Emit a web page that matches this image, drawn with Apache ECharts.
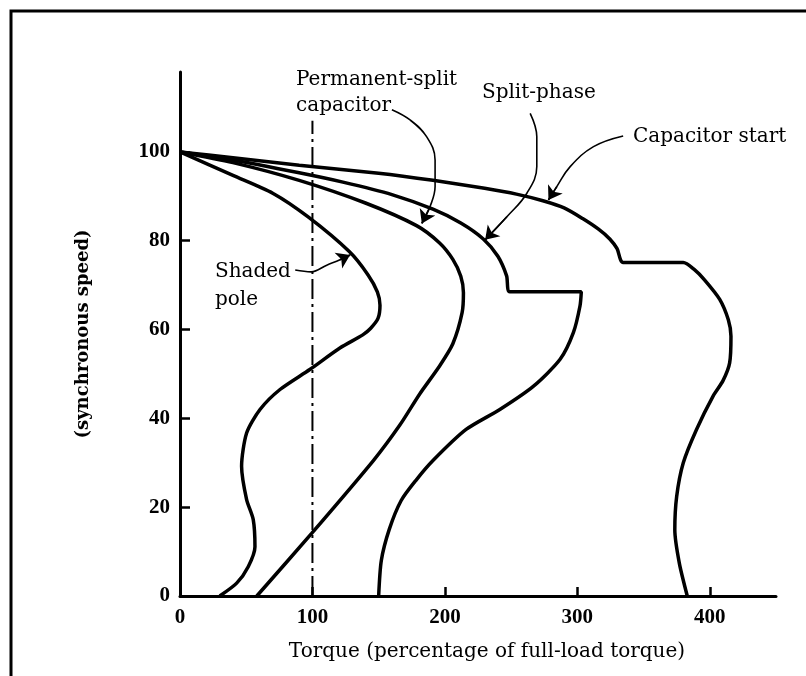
<!DOCTYPE html>
<html>
<head>
<meta charset="utf-8">
<script src="https://cdn.jsdelivr.net/npm/echarts@6/dist/echarts.min.js"></script>
<style>html,body{margin:0;padding:0;background:#fff;}#c{width:806px;height:676px;}</style>
</head>
<body>
<div id="c"></div>
<script>
// Tick values
const xTicks = [0, 100, 200, 300, 400];
const yTicks = [0, 20, 40, 60, 80, 100];

// Curves: [torque %, speed %]
const capacitorStart = [[0,100],[40,98.7],[90,97],[150,95.2],[191,93.6],[230,91.8],[254,90.5],[274,89],[290,87.4],[304,85],[316,82.6],[324.5,80.4],[330,78.2],[334.6,75.1],[380,75.1],[388,73.6],[396,71.2],[407.5,66.8],[414,62.2],[416,58.5],[415,52.5],[410,48.5],[402.5,45],[390,37.5],[380,30],[375,22.4],[373.6,14.9],[377,7.4],[383,0]];
const splitPhase = [[0,100],[40,98.2],[90,95.3],[123,93.2],[160,90.4],[191,87.1],[212,84],[229,80.4],[240,76.5],[246.6,72.1],[249,68.5],[303,68.5],[302,65.3],[297,59.3],[287,53.3],[266.7,47.2],[241.5,42],[216,37.5],[191,30.5],[178,26],[167,21.5],[158,15],[152,8],[150,0]];
const permanentSplit = [[0,100],[40,97.6],[90,93.6],[140,88.5],[178.6,83.4],[196,79.5],[206,75.8],[212,72],[214,68.3],[213,63.8],[206,56.8],[196,51.8],[181,45.5],[166,38.5],[146,30.5],[99.4,14.1],[58,0]];
const shadedPole = [[0,100],[40,94.7],[70,90.7],[97,85.3],[128,77.5],[142,72.3],[149,68.5],[151,65.5],[149.5,62.5],[144,60.3],[138,58.8],[121,55.9],[98,51],[75.5,46.5],[60.4,42],[50.3,36.7],[46.5,29.2],[50.3,21.7],[55.3,17.2],[56.6,11.1],[51.5,6.6],[42.8,2.9],[30,0]];
const fullLoadLine = [[100,0],[100,107]];

// Annotation labels
const labelTexts = ['Permanent-split', 'capacitor', 'Split-phase', 'Capacitor start', 'Shaded', 'pole'];
const labelPos = [[87.6,116.2],[87.6,110.4],[228,113.3],[342,103.4],[26.4,73],[26.4,66.7]];

// Leader arrows
const arrowPSC = [[160,109.5],[173.7,107.2],[186.3,103.4],[192.6,98.2],[192.6,92.2],[188.8,87.7],[182.6,83.9]];
const arrowSplit = [[264.4,108.7],[269.4,103.4],[269.4,96.7],[261.9,90.7],[246.8,85.4],[230.4,80.2]];
const arrowCap = [[334.6,103.6],[312.2,101.2],[294.6,96.7],[284.5,92.2],[278.2,89.2]];
const arrowShaded = [[87,73.4],[99,73],[110.8,74.5],[120.8,75.7],[128.4,76.8]];
const arrows = [arrowPSC, arrowSplit, arrowCap, arrowShaded];

const SERIF = "'Liberation Serif','Times New Roman',serif";
const WIDE = "'DejaVu Serif',serif";
const chart = echarts.init(document.getElementById('c'), null, {renderer: 'canvas'});

function curve(data) {
  return {type:'line', data:data, smooth:0.25, symbol:'none', animation:false,
    lineStyle:{color:'#000', width:3.5}, z:3};
}
function leader(data) {
  return {type:'line', data:data, smooth:0.4, symbol:'none', animation:false,
    lineStyle:{color:'#000', width:1.6}, z:4};
}

chart.setOption({
  animation:false,
  backgroundColor:'#fff',
  grid:{left:180, right:30, top:72, bottom:80},
  graphic:[{type:'rect', shape:{x:11, y:11, width:900, height:900},
    style:{fill:'none', stroke:'#000', lineWidth:3}}],
  xAxis:{type:'value', min:0, max:450,
    name:'Torque (percentage of full-load torque)', nameLocation:'middle', nameGap:46,
    nameTextStyle:{fontFamily:WIDE, fontSize:20, color:'#000', padding:[0,0,0,18]},
    axisLine:{lineStyle:{color:'#000', width:3}},
    axisTick:{inside:true, length:9, customValues:xTicks, lineStyle:{width:2.5, color:'#000'}},
    axisLabel:{customValues:xTicks, fontFamily:SERIF, fontSize:21, fontWeight:'bold', color:'#000', margin:11},
    splitLine:{show:false}},
  yAxis:{type:'value', min:0, max:118,
    name:'(synchronous speed)', nameLocation:'middle', nameGap:88, nameRotate:90,
    nameTextStyle:{fontFamily:WIDE, fontSize:18, fontWeight:'bold', color:'#000'},
    axisLine:{lineStyle:{color:'#000', width:3}},
    axisTick:{inside:true, length:10, customValues:yTicks, lineStyle:{width:2.5, color:'#000'}},
    axisLabel:{customValues:yTicks, fontFamily:SERIF, fontSize:21, fontWeight:'bold', color:'#000', margin:10},
    splitLine:{show:false}},
  series:[
    curve(capacitorStart), curve(splitPhase), curve(permanentSplit), curve(shadedPole),
    {type:'line', data:fullLoadLine, symbol:'none', lineStyle:{color:'#000', width:2, type:[20,5,3,5]}, z:2},
    leader(arrowPSC), leader(arrowSplit), leader(arrowCap), leader(arrowShaded),
    {type:'lines', coordinateSystem:'cartesian2d', symbol:['none','arrow'], symbolSize:[8,13],
      lineStyle:{color:'#000', width:1.6, opacity:1}, z:5,
      data: arrows.map(a => ({coords:[a[a.length-2], a[a.length-1]]}))},
    {type:'scatter', symbolSize:0, z:6, itemStyle:{opacity:1},
      data: labelTexts.map((t,i)=>({name:t, value:labelPos[i]})),
      label:{show:true, position:'right', distance:0, formatter:'{b}', opacity:1,
        fontFamily:WIDE, fontSize:20, color:'#000'}}
  ]
});
</script>
</body>
</html>
